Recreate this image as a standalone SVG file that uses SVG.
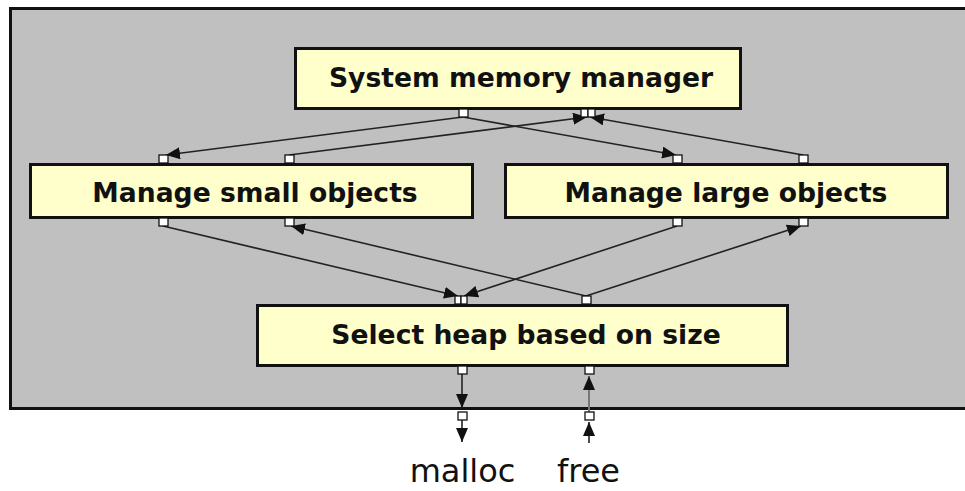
<svg xmlns="http://www.w3.org/2000/svg" width="965" height="491" viewBox="0 0 965 491">
  <style>
    .box { fill: #ffffcc; stroke: #111; stroke-width: 3; }
    .lbl { font-family: "DejaVu Sans", Verdana, sans-serif; font-weight: bold; font-size: 26.6px; fill: #111; text-anchor: middle; }
    .io { font-family: "DejaVu Sans", Verdana, sans-serif; font-size: 32px; fill: #111; text-anchor: middle; }
    .port { fill: #ffffff; stroke: #111; stroke-width: 1.3; }
    .wire { fill: none; stroke: #222; stroke-width: 1.6; marker-end: url(#arrow); }
    .wire-gray { fill: none; stroke: #777; stroke-width: 2; marker-end: url(#arrow); }
  </style>
  <defs>
    <marker id="arrow" viewBox="0 0 14 12" refX="14" refY="6" markerWidth="14" markerHeight="12" markerUnits="userSpaceOnUse" orient="auto">
      <path d="M0,0 L14,6 L0,12 z" fill="#111"/>
    </marker>
  </defs>

  <rect width="965" height="491" fill="#ffffff"/>

  <!-- enclosing memory-manager panel -->
  <rect id="panel" x="10.5" y="8.5" width="990" height="400" fill="#c0c0c0" stroke="#111" stroke-width="3"/>

  <!-- connectors -->
  <g id="connectors">
    <line class="wire" x1="463" y1="117" x2="166" y2="155"/>
    <line class="wire" x1="463" y1="117" x2="676" y2="155"/>
    <line class="wire" x1="289" y1="155" x2="587" y2="117"/>
    <line class="wire" x1="803" y1="155" x2="590" y2="117"/>
    <line class="wire" x1="163" y1="226" x2="458" y2="296"/>
    <line class="wire" x1="677" y1="226" x2="464" y2="296"/>
    <line class="wire" x1="586" y1="296" x2="291" y2="226"/>
    <line class="wire" x1="586" y1="296" x2="801" y2="226"/>
    <line class="wire" x1="462" y1="374" x2="462" y2="408"/>
    <line class="wire" x1="462" y1="420" x2="462" y2="442"/>
    <line class="wire-gray" x1="589" y1="412" x2="589" y2="376"/>
    <line class="wire" x1="589" y1="443" x2="589" y2="422"/>
  </g>

  <g id="system-memory-manager">
    <rect class="box" x="295.5" y="48.5" width="445" height="60"/>
    <text class="lbl" x="521" y="87">System memory manager</text>
    <rect class="port" x="459" y="109" width="9" height="8"/>
    <rect class="port" x="581" y="109" width="7" height="8"/>
    <rect class="port" x="588" y="109" width="7" height="8"/>
  </g>

  <g id="manage-small-objects">
    <rect class="box" x="30.5" y="164.5" width="442" height="53"/>
    <text class="lbl" x="255" y="202">Manage small objects</text>
    <rect class="port" x="159" y="155" width="9" height="8"/>
    <rect class="port" x="285" y="155" width="9" height="8"/>
    <rect class="port" x="159" y="218" width="9" height="8"/>
    <rect class="port" x="285" y="218" width="9" height="8"/>
  </g>

  <g id="manage-large-objects">
    <rect class="box" x="505.5" y="164.5" width="442" height="53"/>
    <text class="lbl" x="726" y="202">Manage large objects</text>
    <rect class="port" x="673" y="155" width="9" height="8"/>
    <rect class="port" x="799" y="155" width="9" height="8"/>
    <rect class="port" x="673" y="218" width="9" height="8"/>
    <rect class="port" x="799" y="218" width="9" height="8"/>
  </g>

  <g id="select-heap">
    <rect class="box" x="257.5" y="305.5" width="530" height="60"/>
    <text class="lbl" x="526" y="344">Select heap based on size</text>
    <rect class="port" x="455" y="296" width="6" height="8"/>
    <rect class="port" x="461" y="296" width="6" height="8"/>
    <rect class="port" x="582" y="296" width="9" height="8"/>
    <rect class="port" x="458" y="366" width="9" height="8"/>
    <rect class="port" x="585" y="366" width="9" height="8"/>
  </g>

  <g id="malloc">
    <rect class="port" x="458" y="412" width="9" height="8"/>
    <text class="io" x="462.5" y="482">malloc</text>
  </g>

  <g id="free">
    <rect class="port" x="585" y="412" width="9" height="8"/>
    <text class="io" x="588.5" y="482">free</text>
  </g>
</svg>
